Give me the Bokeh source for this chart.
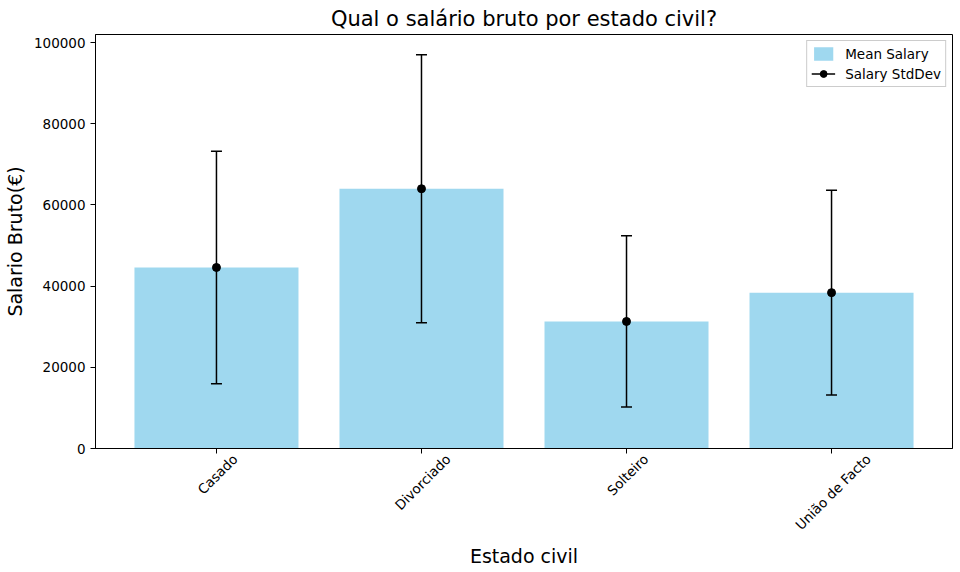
import math
from bokeh.plotting import figure
from bokeh.models import (Range1d, FixedTicker, Legend, LegendItem, ColumnDataSource,
                          LinearAxis, CustomJSTickFormatter)
from bokeh.embed import file_html
from bokeh.resources import INLINE

categories = ["Casado", "Divorciado", "Solteiro", "União de Facto"]
mean_salary = [44600, 64000, 31300, 38400]
std_salary = [28650, 33000, 21100, 25200]

xs = list(range(len(categories)))
lower = [m - s for m, s in zip(mean_salary, std_salary)]
upper = [m + s for m, s in zip(mean_salary, std_salary)]
src = ColumnDataSource(dict(x=xs, mean=mean_salary, lower=lower, upper=upper))

FONT = "DejaVu Sans"
TICK_PX = 13.5
FRAME_W = 857
X0, X1 = -0.59, 3.59

# approximate DejaVu Sans advance widths (per 1000 em), used to center rotated labels like matplotlib
ADV = {"C": 698, "a": 613, "s": 521, "d": 635, "o": 612, "D": 770, "i": 278, "v": 592,
       "r": 411, "c": 550, "S": 635, "l": 278, "t": 392, "e": 615, "U": 732, "n": 634,
       "ã": 613, " ": 318, "F": 575, "f": 352}


def text_w(s):
    return sum(ADV.get(ch, 600) for ch in s) / 1000.0 * TICK_PX


px_per_unit = FRAME_W / (X1 - X0)
shifted = [x + (text_w(c) * math.cos(math.pi / 4) / 2.0 + 1) / px_per_unit
           for x, c in zip(xs, categories)]

p = figure(frame_width=FRAME_W, frame_height=414, output_backend="svg", toolbar_location=None,
           x_range=Range1d(X0, X1), y_range=Range1d(0, 102000),
           title="Qual o salário bruto por estado civil?",
           min_border_left=86, min_border_right=1, min_border_top=5, min_border_bottom=5)

bars = p.vbar(x="x", top="mean", width=0.8, source=src, fill_color="skyblue",
              fill_alpha=0.8, line_color=None)
seg = p.segment(x0="x", y0="lower", x1="x", y1="upper", source=src, line_color="black", line_width=1.5)
cap1 = p.scatter(x="x", y="lower", source=src, marker="dash", size=11, line_color="black", line_width=1.5)
cap2 = p.scatter(x="x", y="upper", source=src, marker="dash", size=11, line_color="black", line_width=1.5)
dots = p.scatter(x="x", y="mean", source=src, marker="circle", size=8, fill_color="black", line_color="black")

legend = Legend(items=[LegendItem(label="Mean Salary", renderers=[bars]),
                       LegendItem(label="Salary StdDev", renderers=[seg, dots])],
                location="top_right", label_text_font=FONT, label_text_font_size="13.5px",
                label_text_color="black",
                border_line_color="#cccccc", border_line_alpha=1.0, background_fill_alpha=0.8,
                margin=6, padding=4, spacing=3, glyph_width=24, glyph_height=17, label_height=17,
                label_standoff=10)
p.add_layout(legend)

p.title.align = "center"
p.title.text_font = FONT
p.title.text_font_size = "21px"
p.title.text_font_style = "normal"
p.title.text_color = "black"
p.title.standoff = 8

# main x axis: ticks only
p.xaxis.ticker = FixedTicker(ticks=xs)
p.xaxis.formatter = CustomJSTickFormatter(code="return '';")
p.xaxis.major_label_text_font_size = "1px"
p.xaxis.major_label_standoff = 0

# label axis: rotated category names, centered under the ticks
lab_axis = LinearAxis(ticker=FixedTicker(ticks=shifted),
                      formatter=CustomJSTickFormatter(args=dict(names=categories),
                                                      code="return names[index];"),
                      major_label_orientation=math.pi / 4,
                      axis_line_color=None, major_tick_line_color=None, minor_tick_line_color=None,
                      major_tick_out=0, major_tick_in=0, major_label_standoff=3,
                      axis_label="Estado civil", axis_label_standoff=4)
p.add_layout(lab_axis, "below")

p.yaxis.ticker = FixedTicker(ticks=[0, 20000, 40000, 60000, 80000, 100000])
p.yaxis.formatter.use_scientific = False
p.yaxis.axis_label = "Salario Bruto(€)"

for ax in (p.xaxis[0], p.yaxis[0], lab_axis):
    ax.axis_label_text_font = FONT
    ax.axis_label_text_font_size = "19px"
    ax.axis_label_text_font_style = "normal"
    ax.axis_label_text_color = "black"
    ax.major_label_text_font = FONT
    ax.major_label_text_color = "black"
for ax in (p.yaxis[0], lab_axis):
    ax.major_label_text_font_size = f"{TICK_PX}px"
for ax in (p.xaxis[0], p.yaxis[0]):
    ax.axis_line_color = "black"
    ax.major_tick_line_color = "black"
    ax.minor_tick_line_color = None
    ax.major_tick_out = 5
    ax.major_tick_in = 0

p.xgrid.grid_line_color = None
p.ygrid.grid_line_color = None
p.outline_line_color = "black"
p.outline_line_alpha = 1.0

open("out.html", "w").write(file_html(p, INLINE))
